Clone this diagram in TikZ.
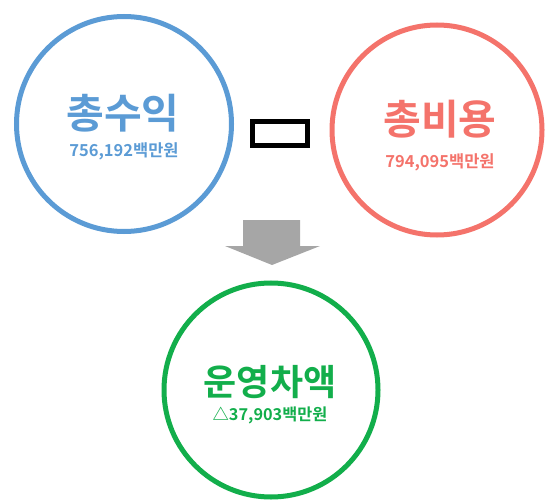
\documentclass[tikz,border=0pt]{standalone}
\usepackage{fontspec}
\newfontfamily\kr{Noto Sans CJK KR}
\newfontfamily\krb{Noto Sans CJK KR Bold}
\definecolor{cblue}{HTML}{5B9BD5}
\definecolor{cred}{HTML}{F4736B}
\definecolor{cgreen}{HTML}{12AE4B}
\definecolor{cgray}{HTML}{A6A6A6}
\tikzset{
  ring/.style={circle, draw, line width=5bp, inner sep=0pt},
  title/.style={font=\krb\fontsize{41bp}{44bp}\selectfont, inner sep=0pt},
  sub/.style={font=\krb\fontsize{16.5bp}{18bp}\selectfont, inner sep=0pt},
}
\begin{document}
\begin{tikzpicture}[x=1bp,y=-1bp]
\useasboundingbox (0,0) rectangle (552,504);
% circles
\node[ring, draw=cblue, minimum size=215bp] (rev) at (124,124) {};
\node[ring, draw=cred, minimum size=210bp] (cost) at (437,130) {};
\node[ring, draw=cgreen, minimum size=214bp] (diff) at (271,390) {};
% texts
\node[title, text=cblue] (revt) at (123,113) {총수익};
\node[sub, text=cblue] (revs) at (124,151) {756,192백만원};
\node[title, text=cred] (costt) at (440,119) {총비용};
\node[sub, text=cred] (costs) at (440,162) {794,095백만원};
\node[title, text=cgreen, font=\krb\fontsize{36bp}{39bp}\selectfont] (difft) at (270,382) {운영차액};
\node[sub, text=cgreen, font=\krb\fontsize{16.3bp}{18bp}\selectfont] (diffs) at (270,415) {△37,903백만원};
% box sign
\node[draw=black, line width=5bp, minimum width=55bp, minimum height=24bp, inner sep=0pt] (minus) at (280,133.5) {};
% block arrow
\fill[cgray] (243,220) -- (300,220) -- (300,246) -- (320,246) -- (272,265) -- (225,246) -- (243,246) -- cycle;
\end{tikzpicture}
\end{document}
